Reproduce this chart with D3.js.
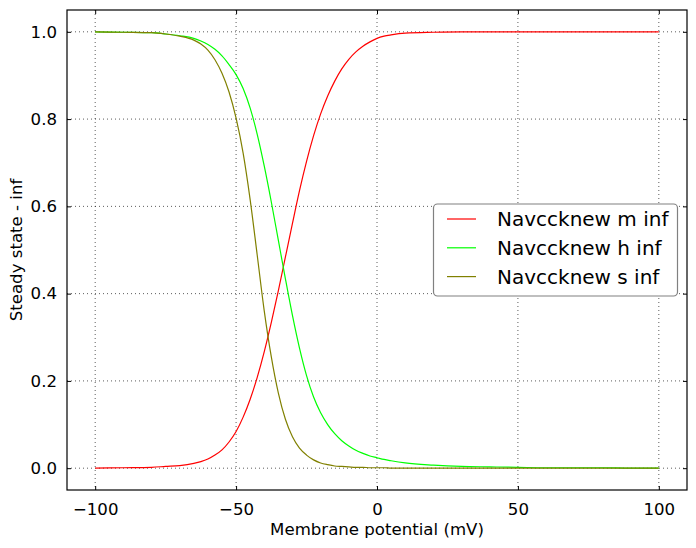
<!DOCTYPE html>
<html>
<head>
<meta charset="utf-8">
<script src="https://cdn.jsdelivr.net/npm/d3@7/dist/d3.min.js"></script>
<style>
  html, body { margin: 0; padding: 0; background: #fff; }
  svg { display: block; font-family: "DejaVu Sans", sans-serif; }
</style>
</head>
<body>
<svg id="chart" width="696" height="548"></svg>
<script>
// ---- data ----
const voltage = [-100, -90, -80, -75, -70, -65, -62.5, -60, -57.5, -55, -52.5, -50, -47.5, -45, -42.5, -40, -37.5, -35, -32.5, -30, -27.5, -25, -22.5, -20, -17.5, -15, -12.5, -10, -7.5, -5, -2.5, 0, 2.5, 5, 10, 20, 30, 40, 50, 60, 70, 80, 90, 100];
const mInf = [0.000, 0.001, 0.002, 0.004, 0.006, 0.011, 0.015, 0.021, 0.030, 0.042, 0.060, 0.084, 0.117, 0.158, 0.208, 0.267, 0.334, 0.407, 0.484, 0.561, 0.636, 0.703, 0.762, 0.812, 0.853, 0.887, 0.915, 0.937, 0.954, 0.967, 0.977, 0.985, 0.990, 0.993, 0.997, 0.999, 1.000, 1.000, 1.000, 1.000, 1.000, 1.000, 1.000, 1.000];
const hInf = [1.000, 0.999, 0.998, 0.995, 0.991, 0.985, 0.979, 0.971, 0.960, 0.945, 0.925, 0.902, 0.870, 0.825, 0.765, 0.692, 0.610, 0.522, 0.434, 0.350, 0.275, 0.212, 0.163, 0.127, 0.100, 0.079, 0.063, 0.051, 0.041, 0.034, 0.028, 0.024, 0.020, 0.017, 0.012, 0.007, 0.004, 0.003, 0.002, 0.001, 0.001, 0.001, 0.000, 0.000];
const sInf = [1.000, 0.999, 0.998, 0.995, 0.990, 0.981, 0.972, 0.958, 0.936, 0.905, 0.862, 0.802, 0.722, 0.615, 0.488, 0.360, 0.255, 0.172, 0.112, 0.072, 0.046, 0.030, 0.019, 0.012, 0.008, 0.005, 0.004, 0.003, 0.002, 0.002, 0.001, 0.001, 0.001, 0.000, 0.000, 0.000, 0.000, 0.000, 0.000, 0.000, 0.000, 0.000, 0.000, 0.000];
const seriesNames = ["Navccknew m inf", "Navccknew h inf", "Navccknew s inf"];
const seriesColors = ["#ff0000", "#00ff00", "#808000"];
const xTicks = [-100, -50, 0, 50, 100];
const yTicks = [0.0, 0.2, 0.4, 0.6, 0.8, 1.0];
const xLabel = "Membrane potential (mV)";
const yLabel = "Steady state - inf";

// ---- layout ----
const svg = d3.select("#chart");
const L = 67, R = 687, T = 10, B = 490;
const x = d3.scaleLinear().domain([-110, 110]).range([L, R]);
const y = d3.scaleLinear().domain([-0.05, 1.05]).range([B, T]);
const tickFont = 16.6;

svg.append("defs").append("clipPath").attr("id", "clip")
  .append("rect").attr("x", L).attr("y", T).attr("width", R - L).attr("height", B - T);

// grid
const grid = svg.append("g");
xTicks.forEach(t => grid.append("line")
  .attr("x1", x(t)).attr("x2", x(t)).attr("y1", T).attr("y2", B)
  .attr("stroke", "#000").attr("stroke-width", 0.8).attr("stroke-dasharray", "1,3").attr("opacity", 0.8));
yTicks.forEach(t => grid.append("line")
  .attr("x1", L).attr("x2", R).attr("y1", y(t)).attr("y2", y(t))
  .attr("stroke", "#000").attr("stroke-width", 0.8).attr("stroke-dasharray", "1,3").attr("opacity", 0.8));

// lines
const seriesData = [mInf, hInf, sInf];
const line = d3.line().x(d => x(d[0])).y(d => y(d[1])).curve(d3.curveMonotoneX);
const plot = svg.append("g").attr("clip-path", "url(#clip)");
seriesData.forEach((vals, i) => {
  plot.append("path")
    .datum(voltage.map((v, j) => [v, vals[j]]))
    .attr("d", line)
    .attr("fill", "none")
    .attr("stroke", seriesColors[i])
    .attr("stroke-width", 1.2);
});

// axes (inward ticks, all four sides)
const fmtY = d3.format(".1f");
const fmtX = d => d < 0 ? "\u2212" + Math.abs(d) : String(d);
svg.append("g").attr("transform", `translate(0,${B})`)
  .call(d3.axisBottom(x).tickValues(xTicks).tickFormat(fmtX).tickSizeInner(-4).tickSizeOuter(0).tickPadding(13));
svg.append("g").attr("transform", `translate(0,${T})`)
  .call(d3.axisTop(x).tickValues(xTicks).tickFormat("").tickSizeInner(-4).tickSizeOuter(0));
svg.append("g").attr("transform", `translate(${L},0)`)
  .call(d3.axisLeft(y).tickValues(yTicks).tickFormat(fmtY).tickSizeInner(-4).tickSizeOuter(0).tickPadding(10));
svg.append("g").attr("transform", `translate(${R},0)`)
  .call(d3.axisRight(y).tickValues(yTicks).tickFormat("").tickSizeInner(-4).tickSizeOuter(0));
svg.selectAll(".tick text").attr("font-size", tickFont).attr("font-family", "DejaVu Sans").attr("fill", "#000");
svg.selectAll(".domain").remove();
svg.selectAll(".tick line").attr("stroke", "#000");

// frame
svg.append("rect").attr("x", L).attr("y", T).attr("width", R - L).attr("height", B - T)
  .attr("fill", "none").attr("stroke", "#000").attr("stroke-width", 1.2);

// axis labels
svg.append("text").attr("x", (L + R) / 2).attr("y", 535).attr("text-anchor", "middle")
  .attr("font-size", tickFont).text(xLabel);
svg.append("text").attr("transform", `translate(22,${(T + B) / 2}) rotate(-90)`).attr("text-anchor", "middle")
  .attr("font-size", tickFont).text(yLabel);

// legend
const lg = svg.append("g");
lg.append("rect").attr("x", 433.5).attr("y", 204).attr("width", 244).attr("height", 92)
  .attr("rx", 4).attr("ry", 4).attr("fill", "#fff").attr("stroke", "#808080").attr("stroke-width", 1.2);
seriesNames.forEach((name, i) => {
  const cy = 219 + i * 28.8;
  lg.append("line").attr("x1", 447).attr("x2", 476).attr("y1", cy).attr("y2", cy)
    .attr("stroke", seriesColors[i]).attr("stroke-width", 1.2);
  lg.append("text").attr("x", 497).attr("y", cy + 7).attr("font-size", 20).text(name);
});
</script>
</body>
</html>
